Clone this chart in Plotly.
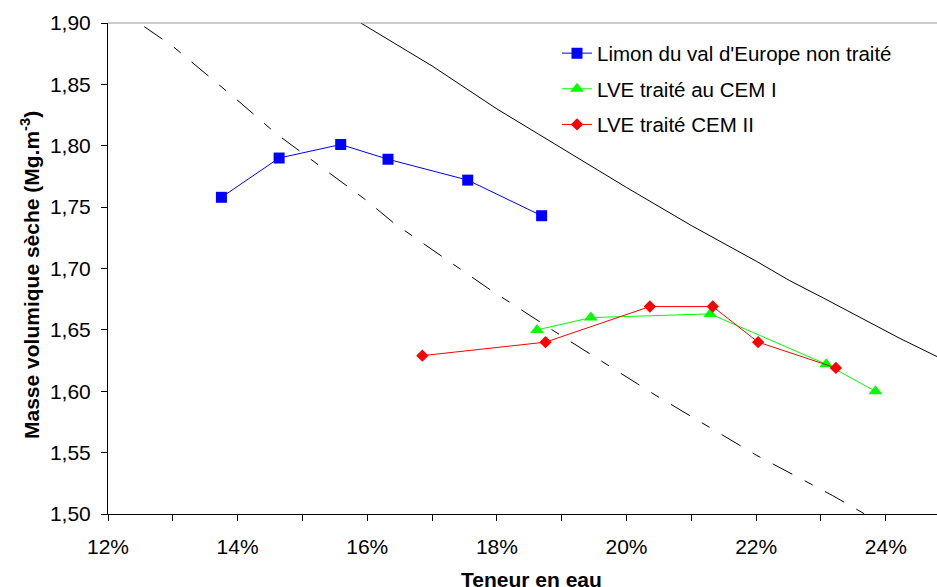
import plotly.graph_objects as go

# ---- data ----
w_limon = [0.1375, 0.1464, 0.1559, 0.1632, 0.1755, 0.1869]
rho_limon = [1.758, 1.790, 1.801, 1.789, 1.772, 1.743]

w_cem1 = [0.1862, 0.1945, 0.2129, 0.2308, 0.2384]
rho_cem1 = [1.650, 1.660, 1.663, 1.622, 1.600]

w_cem2 = [0.1685, 0.1875, 0.2036, 0.2133, 0.2203, 0.2323]
rho_cem2 = [1.629, 1.640, 1.669, 1.669, 1.640, 1.619]

# solid black curve (saturation)
w_sat = [0.159, 0.17, 0.18, 0.19, 0.20, 0.21, 0.22, 0.2252, 0.23, 0.2422, 0.248]
rho_sat = [1.900, 1.865, 1.830, 1.798, 1.766, 1.735, 1.706, 1.690, 1.677, 1.643, 1.628]

# dashed black curve
w_dash = [0.1256, 0.13, 0.14, 0.1459, 0.16, 0.1641, 0.1786, 0.19, 0.2044, 0.22, 0.2318, 0.2379]
rho_dash = [1.897, 1.881, 1.837, 1.810, 1.755, 1.737, 1.684, 1.645, 1.597, 1.548, 1.515, 1.4965]

y_ticks = [1.50, 1.55, 1.60, 1.65, 1.70, 1.75, 1.80, 1.85, 1.90]

names = ["Limon du val d'Europe non traité", "LVE traité au CEM I", "LVE traité CEM II"]

FONT = "Liberation Sans, Arial, sans-serif"

fig = go.Figure()

fig.add_trace(go.Scatter(x=w_sat, y=rho_sat, mode="lines", showlegend=False,
                         line=dict(color="black", width=1), hoverinfo="skip"))
fig.add_trace(go.Scatter(x=w_dash, y=rho_dash, mode="lines", showlegend=False,
                         line=dict(color="black", width=1, dash="22px,14px,9px,14px"),
                         hoverinfo="skip"))

fig.add_trace(go.Scatter(x=w_limon, y=rho_limon, mode="lines+markers", name=names[0],
                         legendgroup="a",
                         line=dict(color="#0000FF", width=1),
                         marker=dict(symbol="square", size=11, color="#0000FF")))
fig.add_trace(go.Scatter(x=w_cem1, y=rho_cem1, mode="lines+markers", name=names[1],
                         legendgroup="b",
                         line=dict(color="#00FF00", width=1),
                         marker=dict(symbol="triangle-up", size=12, color="#00FF00")))
fig.add_trace(go.Scatter(x=w_cem2, y=rho_cem2, mode="lines+markers", name=names[2],
                         legendgroup="c",
                         line=dict(color="#FF0000", width=1),
                         marker=dict(symbol="diamond", size=9.5, color="#FF0000")))

fig.update_layout(
    width=937, height=587, autosize=False,
    margin=dict(l=108, r=0, t=23, b=73, pad=0),
    paper_bgcolor="white", plot_bgcolor="white",
    separators=", ",
    font=dict(family=FONT, size=21, color="black"),
    legend=dict(x=(557 - 108) / 829, y=0.979, xanchor="left", yanchor="top",
                bgcolor="rgba(0,0,0,0)", font=dict(size=20.5, family=FONT),
                tracegroupgap=6, itemwidth=30),
    xaxis=dict(range=[0.12, 0.2479], tick0=0.12, dtick=0.02, tickformat=".0%",
               showgrid=False, zeroline=False, showline=True, linecolor="black",
               linewidth=1, ticks="outside", ticklen=6, tickcolor="black",
               tickfont=dict(size=21, family=FONT),
               minor=dict(dtick=0.01, ticks="outside", ticklen=6, tickcolor="black"),
               ticklabelstandoff=8),
    yaxis=dict(range=[1.50, 1.90], tickvals=y_ticks, tickformat=".2f",
               showgrid=False, zeroline=False, showline=True, linecolor="black",
               linewidth=1, ticks="outside", ticklen=6, tickcolor="black",
               tickfont=dict(size=21, family=FONT), ticklabelstandoff=6),
    shapes=[dict(type="line", xref="paper", yref="paper", x0=0, x1=1, y0=1, y1=1,
                 line=dict(color="#999999", width=1))],
    annotations=[
        dict(text="<b>Teneur en eau</b>", xref="paper", yref="paper",
             x=(531 - 108) / 829, y=(514 - 579) / 491, xanchor="center", yanchor="middle",
             showarrow=False, font=dict(size=21, family=FONT)),
        dict(text="<b>Masse volumique sèche (Mg.m<sup>-3</sup>)</b>", xref="paper", yref="paper",
             x=(30 - 108) / 829, y=(514 - 275) / 491, xanchor="center", yanchor="middle",
             textangle=-90, showarrow=False, font=dict(size=21, family=FONT)),
    ],
)

fig.write_html("out.html", config={"displayModeBar": False},
               post_script="document.body.style.margin='0';")
